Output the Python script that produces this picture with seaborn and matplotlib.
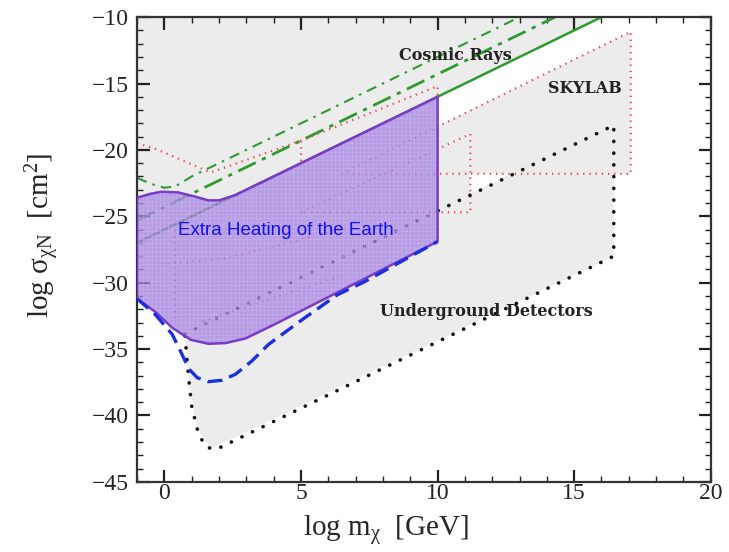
import numpy as np
import matplotlib
matplotlib.use("Agg")
import matplotlib.pyplot as plt
import seaborn as sns

# ---- data (log10 units) ----
# Cosmic-ray limits (green)
cr_solid_x = [-1.0, 16.0]
cr_solid_y = [-27.0, -10.0]
cr_dashdot_x = [-1.0, 14.3]
cr_dashdot_y = [-25.3, -10.0]
cr_dashdot2_x = [-1.0, -0.5, 0.0, 0.4, 1.0, 13.0]
cr_dashdot2_y = [-22.1, -22.55, -22.85, -22.75, -22.0, -10.0]

# SKYLAB limits (red dotted)
sky_outer_x = [6.5, 17.07, 17.07, 6.5]
sky_outer_y = [-21.8, -11.1, -21.8, -21.8]
sky_inner_x = [5.0, 11.2, 11.2, 5.0]
sky_inner_y = [-24.7, -18.8, -24.7, -24.7]
sky_upper_x = [-1.0, -0.35, 1.7, 5.0, 10.0, 10.0]
sky_upper_y = [-19.5, -19.9, -21.7, -19.3, -15.2, -16.3]
sky_step_x = [5.0, 5.0]
sky_step_y = [-19.3, -21.0]
sky_low1_x = [0.4, 0.4]
sky_low1_y = [-26.0, -33.0]
sky_low2_x = [-0.1, 2.2, 6.6]
sky_low2_y = [-28.6, -28.2, -25.9]
sky_low3_x = [1.4, 6.6]
sky_low3_y = [-32.9, -29.4]

# Underground detectors (black dotted)
ug_x = [0.75, 16.45, 16.45, 2.0, 1.7, 1.45, 1.2, 1.0, 0.9, 0.82, 0.75]
ug_y = [-33.85, -18.15, -28.0, -42.45, -42.5, -42.2, -41.0, -39.3, -37.4, -35.6, -33.85]

# Earth heating region (purple)
eh_top_x = [-1.0, -0.5, -0.1, 0.5, 1.1, 1.6, 2.0, 2.6, 10.0]
eh_top_y = [-23.6, -23.3, -23.15, -23.2, -23.5, -23.8, -23.8, -23.4, -16.0]
eh_bot_x = [10.0, 4.07, 2.97, 2.23, 1.61, 0.97, 0.29, -0.33, -1.0]
eh_bot_y = [-26.9, -33.1, -34.2, -34.55, -34.6, -34.3, -33.4, -32.2, -31.2]

# Blue dashed curve
bl_x = [-1.0, -0.33, 0.29, 0.6, 0.9, 1.2, 1.61, 2.1, 2.6, 3.2, 3.81, 5.1, 6.34, 7.3, 10.0]
bl_y = [-31.2, -32.4, -33.9, -35.2, -36.5, -37.15, -37.45, -37.35, -36.9, -35.9, -34.65, -32.7, -30.9, -29.95, -26.9]

# Excluded (grey) region outline and the small uncovered pocket
grey_x = [-1.0, 16.0, 10.0, 10.0, 17.07, 17.07, 16.45, 16.45, 1.7, 1.2, 0.9, 0.75, -1.0]
grey_y = [-10.0, -10.0, -16.0, -18.2, -11.1, -21.8, -21.8, -28.0, -42.5, -41.0, -37.4, -33.85, -31.2]
pocket_x = [11.2, 12.7, 11.2]
pocket_y = [-21.8, -21.8, -23.3]

x_ticks = [0, 5, 10, 15, 20]
y_ticks = [-45, -40, -35, -30, -25, -20, -15, -10]

sns.set_theme(style="ticks")
plt.rcParams["font.family"] = ["Liberation Serif", "DejaVu Serif"]
plt.rcParams["mathtext.fontset"] = "custom"
plt.rcParams["mathtext.rm"] = "Liberation Serif"
plt.rcParams["mathtext.it"] = "Liberation Serif"
plt.rcParams["axes.unicode_minus"] = True
plt.rcParams["hatch.linewidth"] = 0.4

fig = plt.figure(figsize=(7.29, 5.52), dpi=100)
ax = fig.add_axes([0.188, 0.127, 0.787, 0.842])
ax.set_xlim(-1, 20)
ax.set_ylim(-45, -10)

ax.fill(grey_x, grey_y, color="#ececec", lw=0, zorder=0)
ax.fill(pocket_x, pocket_y, color="white", lw=0, zorder=0.5)

def line(x, y, **kw):
    sns.lineplot(x=x, y=y, sort=False, estimator=None, ax=ax, legend=False, **kw)

green = "#2f9a2f"
red = "#e8484f"
line(cr_solid_x, cr_solid_y, color=green, lw=1.8, zorder=2)
line(cr_dashdot_x, cr_dashdot_y, color=green, lw=2.0, dashes=(7, 2.5, 1.5, 2.5), zorder=2)
line(cr_dashdot2_x, cr_dashdot2_y, color=green, lw=1.5, dashes=(5, 3, 1.2, 3), zorder=2)

for xs, ys in [(sky_outer_x, sky_outer_y), (sky_inner_x, sky_inner_y),
               (sky_upper_x, sky_upper_y), (sky_step_x, sky_step_y),
               (sky_low1_x, sky_low1_y), (sky_low2_x, sky_low2_y), (sky_low3_x, sky_low3_y)]:
    line(xs, ys, color=red, lw=1.6, dashes=(0.6, 2.2), zorder=2)

line(ug_x, ug_y, color="#111111", lw=2.6, dashes=(0.05, 3.2), dash_capstyle="round", zorder=2)

# purple region
px = eh_top_x + eh_bot_x
py = eh_top_y + eh_bot_y
ax.fill(px, py, facecolor="#a582e2", edgecolor="#cbb9f3", hatch="++++", lw=0, alpha=0.74, zorder=3)
line(px + [px[0]], py + [py[0]], color="#7a3cc8", lw=1.8, zorder=4)

line(bl_x, bl_y, color="#1a2fe0", lw=2.4, dashes=(4.5, 2.2), zorder=5)

bold_serif = dict(family=["DejaVu Serif"], fontweight="bold", fontsize=11.5, color="#222222")
ax.text(10.66, -12.9, "Cosmic Rays", ha="center", va="center", **bold_serif)
ax.text(15.4, -15.4, "SKYLAB", ha="center", va="center", **bold_serif)
ax.text(11.8, -32.15, "Underground Detectors", ha="center", va="center", **bold_serif)
ax.text(4.43, -26.1, "Extra Heating of the Earth", ha="center", va="center",
        family=["Liberation Sans", "DejaVu Sans"], fontsize=13.5, color="#1010ee", zorder=6)

ax.set_xticks(x_ticks)
ax.set_yticks(y_ticks)
ax.set_xticks(np.arange(-1, 21, 1), minor=True)
ax.set_yticks(np.arange(-45, -9, 1), minor=True)
ax.tick_params(which="both", direction="in", top=True, right=True, colors="#222222", labelsize=17)
ax.tick_params(which="major", length=9, width=1.6)
ax.tick_params(which="minor", length=4.5, width=1.0)
ax.tick_params(axis="x", which="major", pad=1)
ax.tick_params(axis="y", which="major", pad=6)
for s in ax.spines.values():
    s.set_linewidth(1.6)
    s.set_color("#333333")

ax.set_xlabel(r"log m$_\chi$  [GeV]", fontsize=21)
ax.set_ylabel(r"log σ$_{\chi N}$  [cm$^2$]", fontsize=21)
ax.xaxis.set_label_coords(0.434, -0.066)
ax.yaxis.set_label_coords(-0.13, 0.53)

fig.savefig("out.png", dpi=100)
